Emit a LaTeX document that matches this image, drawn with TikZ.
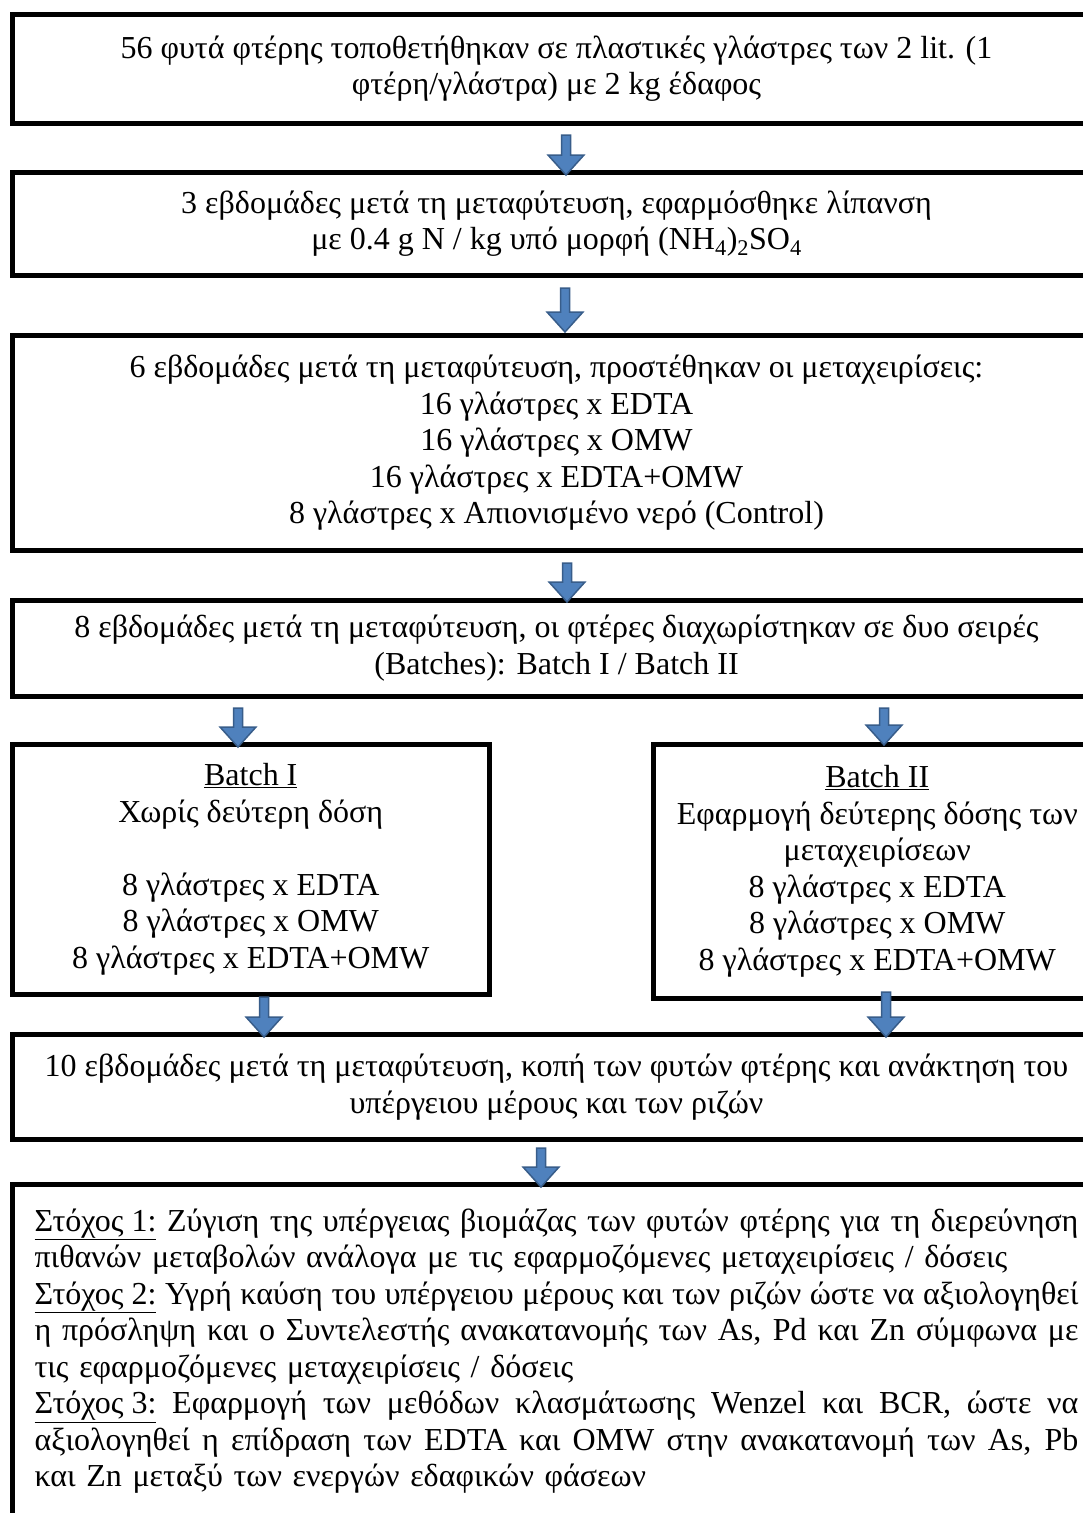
\documentclass[tikz,border=0pt]{standalone}
\usepackage{fontspec}
\setmainfont{Liberation Serif}
\usepackage{tikz}
\usetikzlibrary{calc}
\definecolor{arrowblue}{RGB}{79,129,189}
\definecolor{arrowedge}{RGB}{56,93,138}
\newcommand{\fullline}[1]{{\spaceskip=0.25em plus 1em minus 0.15em\makebox[1044pt][s]{#1}}}

\begin{document}
\begin{tikzpicture}[
  x=1pt, y=-1pt,
  font=\fontsize{32}{36.5}\selectfont,
  box/.style={draw=black, line width=5pt, inner sep=0pt, outer sep=0pt, align=center},
  mainbox/.style={box, minimum width=1089pt},
  flowarrow/.style={fill=arrowblue, draw=arrowedge, line width=1.5pt, line join=miter,
    to path={let \p1=(\tikztostart), \p2=(\tikztotarget) in
      (\x2-4.5pt,\y1) -- (\x2+4.5pt,\y1) -- (\x2+4.5pt,\y2+20pt) -- (\x2+18pt,\y2+20pt)
      -- (\x2,\y2) -- (\x2-18pt,\y2+20pt) -- (\x2-4.5pt,\y2+20pt) -- cycle}}
]
\useasboundingbox (0,0) rectangle (1083,1513);
\fill[white] (0,0) rectangle (1083,1513);
\clip (0,0) rectangle (1083,1513);

% Stages
\node[mainbox, minimum height=108.5pt] (plant) at (556.5,68.75)
  {56 φυτά φτέρης τοποθετήθηκαν σε πλαστικές γλάστρες των 2 lit. (1\\
   φτέρη/γλάστρα) με 2 kg έδαφος};
\node[mainbox, minimum height=103pt] (fert) at (556.5,223.5)
  {3 εβδομάδες μετά τη μεταφύτευση, εφαρμόσθηκε λίπανση\\
   με 0.4 g N / kg υπό μορφή (NH\textsubscript{4})\textsubscript{2}SO\textsubscript{4}};
\node[mainbox, minimum height=215pt] (treat) at (556.5,443)
  {6 εβδομάδες μετά τη μεταφύτευση, προστέθηκαν οι μεταχειρίσεις:\\
   16 γλάστρες x EDTA\\16 γλάστρες x OMW\\16 γλάστρες x EDTA+OMW\\
   8 γλάστρες x Απιονισμένο νερό (Control)};
\node[mainbox, minimum height=96pt] (split) at (556.5,648)
  {8 εβδομάδες μετά τη μεταφύτευση, οι φτέρες διαχωρίστηκαν σε δυο σειρές\\
   (Batches): Batch I / Batch II};

% Batches
\node[box, minimum width=477.5pt, minimum height=249.5pt] (batchone) at (250.75,869.25)
  {\underline{Batch I}\\Χωρίς δεύτερη δόση\\[36.5pt]
   8 γλάστρες x EDTA\\8 γλάστρες x OMW\\8 γλάστρες x EDTA+OMW};
\node[box, minimum width=447.5pt, minimum height=253.5pt] (batchtwo) at (877.25,871.25)
  {\underline{Batch II}\\Εφαρμογή δεύτερης δόσης των\\μεταχειρίσεων\\
   8 γλάστρες x EDTA\\8 γλάστρες x OMW\\8 γλάστρες x EDTA+OMW};

% Harvest and goals
\node[mainbox, minimum height=105pt] (harvest) at (556.5,1087)
  {10 εβδομάδες μετά τη μεταφύτευση, κοπή των φυτών φτέρης και ανάκτηση του\\
   υπέργειου μέρους και των ριζών};
\node[mainbox, minimum height=333.5pt, text width=1044pt, align=left] (goals) at (556.5,1351.25)
  {\fullline{\underline{Στόχος 1:} Ζύγιση της υπέργειας βιομάζας των φυτών φτέρης για τη διερεύνηση}\\
   πιθανών μεταβολών ανάλογα με τις εφαρμοζόμενες μεταχειρίσεις / δόσεις\\
   \fullline{\underline{Στόχος 2:} Υγρή καύση του υπέργειου μέρους και των ριζών ώστε να αξιολογηθεί}\\
   \fullline{η πρόσληψη και ο Συντελεστής ανακατανομής των As, Pd και Zn σύμφωνα με}\\
   τις εφαρμοζόμενες μεταχειρίσεις / δόσεις\\
   \fullline{\underline{Στόχος 3:} Εφαρμογή των μεθόδων κλασμάτωσης Wenzel και BCR, ώστε να}\\
   \fullline{αξιολογηθεί η επίδραση των EDTA και OMW στην ανακατανομή των As, Pb}\\
   και Zn μεταξύ των ενεργών εδαφικών φάσεων};

% Flow arrows
\draw[flowarrow] ([yshift=-12pt]plant.south) to ([xshift=9.5pt,yshift=-3pt]fert.north);
\draw[flowarrow] ([yshift=-13pt]fert.south) to ([xshift=8.5pt,yshift=3.5pt]treat.north);
\draw[flowarrow] ([yshift=-12.5pt]treat.south) to ([xshift=10.5pt,yshift=-2pt]split.north);
\draw[flowarrow] ([yshift=-12pt]split.south) to ([xshift=-12.75pt,yshift=-2.5pt]batchone.north);
\draw[flowarrow] ([yshift=-12pt]split.south) to ([xshift=6.75pt,yshift=-0.5pt]batchtwo.north);
\draw[flowarrow] ([yshift=-3pt]batchone.south) to ([xshift=-292.5pt,yshift=-2.5pt]harvest.north);
\draw[flowarrow] ([yshift=6pt]batchtwo.south) to ([xshift=329.5pt,yshift=-2.5pt]harvest.north);
\draw[flowarrow] ([yshift=-8.5pt]harvest.south) to ([xshift=-15.5pt,yshift=-2.5pt]goals.north);

\end{tikzpicture}
\end{document}
